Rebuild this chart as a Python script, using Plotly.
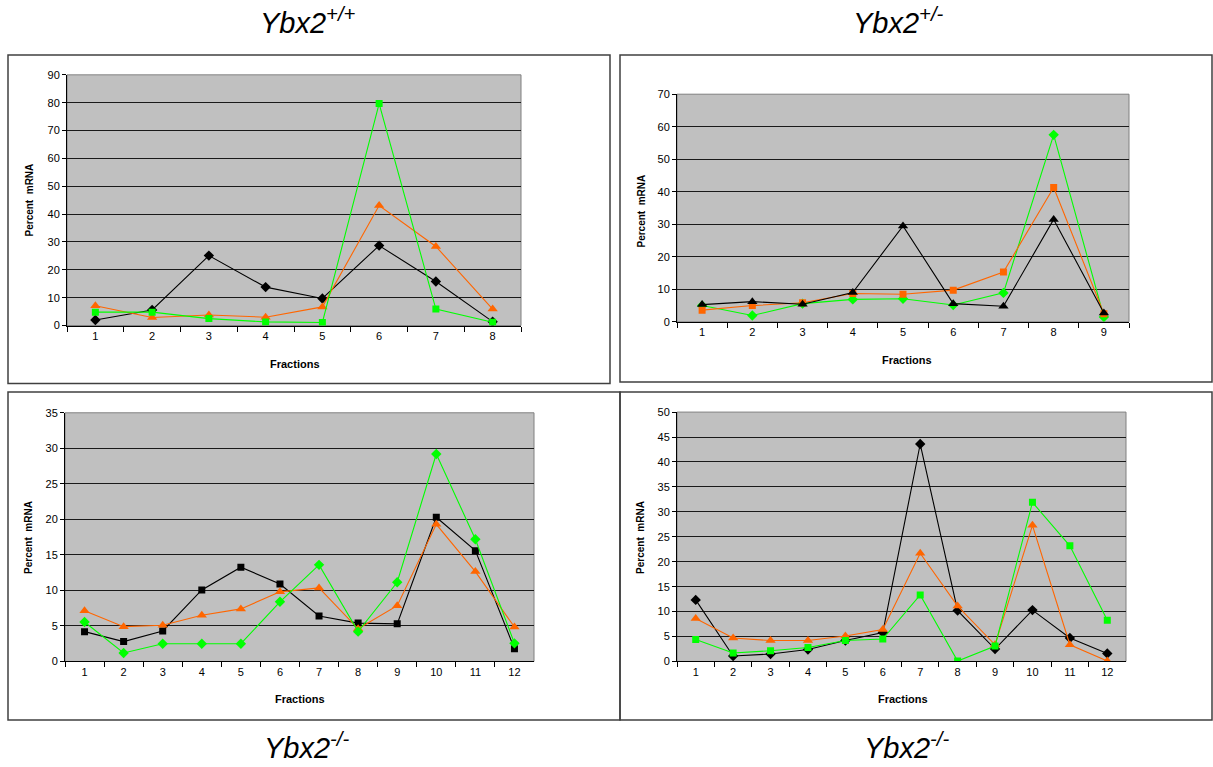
import plotly.graph_objects as go

W, H = 1213, 767

# ---------------- data ----------------
fr8 = [str(i) for i in range(1, 9)]
fr9 = [str(i) for i in range(1, 10)]
fr12 = [str(i) for i in range(1, 13)]

a_black = [2.0, 5.6, 25.1, 13.8, 9.7, 28.7, 15.8, 1.4]
a_orange = [7.1, 2.9, 3.8, 3.0, 6.7, 43.1, 28.4, 5.9]
a_green = [4.8, 4.8, 2.5, 1.3, 1.1, 79.7, 5.9, 1.2]

b_green = [5.0, 1.95, 5.6, 6.9, 7.1, 5.2, 8.9, 57.5, 1.5]
b_orange = [3.6, 5.0, 5.85, 8.7, 8.5, 9.75, 15.3, 41.3, 2.5]
b_black = [5.3, 6.2, 5.4, 9.0, 29.5, 5.6, 4.8, 31.5, 2.7]

c_black = [4.2, 2.8, 4.3, 10.07, 13.27, 10.9, 6.4, 5.4, 5.3, 20.3, 15.6, 1.8]
c_orange = [7.15, 4.9, 5.1, 6.5, 7.4, 9.8, 10.35, 4.6, 7.85, 19.3, 12.65, 4.85]
c_green = [5.55, 1.2, 2.5, 2.5, 2.5, 8.4, 13.6, 4.2, 11.15, 29.2, 17.2, 2.55]

d_black = [12.35, 1.1, 1.5, 2.4, 4.2, 5.8, 43.6, 10.2, 2.5, 10.3, 4.7, 1.6]
d_orange = [8.6, 4.7, 4.2, 4.2, 5.1, 6.4, 21.7, 11.1, 3.35, 27.3, 3.35, 0.1]
d_green = [4.4, 1.7, 2.15, 2.8, 4.2, 4.5, 13.35, 0.1, 3.1, 31.9, 23.2, 8.25]

titles = ["Ybx2<sup>+/+</sup>", "Ybx2<sup>+/-</sup>", "Ybx2<sup>-/-</sup>", "Ybx2<sup>-/-</sup>"]
y_max = [90, 70, 35, 50]
y_step = [10, 10, 5, 5]

BLACK = "#000000"
ORANGE = "#FF6600"
GREEN = "#00FF00"
FONT = "Liberation Sans, Arial, sans-serif"

def px(x):
    return x / W

# the photographed page shows the figure slightly compressed vertically;
# map wanted on-screen rows back to figure rows
def py(y):
    yd = (y - 7.05) / 0.9816
    return 1 - yd / H

areas = [
    (67, 75.7, 521, 325.7),
    (677, 95, 1129, 322),
    (65, 412.7, 534, 660.7),
    (677, 412, 1126, 660.7),
]

panels = [
    (fr8, [(a_black, BLACK, "diamond"), (a_orange, ORANGE, "triangle-up"), (a_green, GREEN, "square")]),
    (fr9, [(b_green, GREEN, "diamond"), (b_orange, ORANGE, "square"), (b_black, BLACK, "triangle-up")]),
    (fr12, [(c_black, BLACK, "square"), (c_orange, ORANGE, "triangle-up"), (c_green, GREEN, "diamond")]),
    (fr12, [(d_black, BLACK, "diamond"), (d_orange, ORANGE, "triangle-up"), (d_green, GREEN, "square")]),
]

fig = go.Figure()
layout_axes = {}
shapes = []
annotations = []

for i, ((cats, series), area) in enumerate(zip(panels, areas)):
    n = i + 1
    xa = "x" if n == 1 else f"x{n}"
    ya = "y" if n == 1 else f"y{n}"
    for vals, col, sym in series:
        msize = {"triangle-up": 9, "diamond": 8, "square": 7}[sym]
        fig.add_trace(go.Scatter(
            x=cats, y=vals, xaxis=xa, yaxis=ya, mode="lines+markers",
            line=dict(color=col, width=1.1),
            marker=dict(symbol=sym, size=msize, color=col, line=dict(width=0)),
            showlegend=False, hoverinfo="skip",
        ))
    l, t, r, b = area
    xkey = "xaxis" if n == 1 else f"xaxis{n}"
    ykey = "yaxis" if n == 1 else f"yaxis{n}"
    layout_axes[xkey] = dict(
        domain=[px(l), px(r)], anchor=ya, type="category",
        range=[-0.5, len(cats) - 0.5], tickson="boundaries",
        ticks="outside", ticklen=5, tickcolor="#000", tickwidth=1,
        showline=True, linecolor="#000", linewidth=1,
        showgrid=False, zeroline=False, fixedrange=True,
        tickfont=dict(family=FONT, size=11, color="#000"),
    )
    layout_axes[ykey] = dict(
        domain=[py(b), py(t)], anchor=xa,
        range=[0, y_max[i]], dtick=y_step[i], tick0=0,
        ticks="outside", ticklen=4, tickcolor="#000", tickwidth=1,
        showline=True, linecolor="#000", linewidth=1,
        showgrid=True, gridcolor="#1a1a1a", gridwidth=1.2,
        zeroline=False, fixedrange=True,
        tickfont=dict(family=FONT, size=11, color="#000"),
    )
    shapes.append(dict(type="rect", xref="paper", yref="paper",
                       x0=px(l), x1=px(r), y0=py(b), y1=py(t),
                       line=dict(color="#808080", width=1), layer="below"))

box_col = "#404040"
for (x0, y0, x1, y1) in [(8, 56, 610, 383.5), (620, 56, 1212, 382), (8, 392, 620, 719), (620, 392, 1212, 719)]:
    shapes.append(dict(type="rect", xref="paper", yref="paper",
                       x0=px(x0), x1=px(x1), y0=py(y1), y1=py(y0),
                       line=dict(color=box_col, width=1.5), layer="below"))

for txt, (cx, cy) in zip(titles, [(308, 22), (898, 22), (306, 745), (906, 745)]):
    annotations.append(dict(text=f"<i>{txt}</i>", x=px(cx), y=py(cy), xref="paper", yref="paper",
                             xanchor="center", yanchor="middle", showarrow=False,
                             font=dict(family=FONT, size=29, color="#000")))

for (cx, cy) in [(294.5, 364), (907, 360), (300, 698), (903, 698)]:
    annotations.append(dict(text="<b>Fractions</b>", x=px(cx), y=py(cy), xref="paper", yref="paper",
                            xanchor="center", yanchor="middle", showarrow=False,
                            font=dict(family=FONT, size=11, color="#000")))
for (cx, cy) in [(29, 201), (642, 212), (28.5, 537), (640.5, 537)]:
    annotations.append(dict(text="<b>Percent  mRNA</b>", x=px(cx), y=py(cy), xref="paper", yref="paper",
                            xanchor="center", yanchor="middle", showarrow=False, textangle=-90,
                            font=dict(family=FONT, size=10, color="#000")))

fig.update_layout(
    width=W, height=H, autosize=False,
    margin=dict(l=0, r=0, t=0, b=0),
    paper_bgcolor="#FFFFFF", plot_bgcolor="#C0C0C0",
    shapes=shapes, annotations=annotations,
    **layout_axes,
)

post = (
    "document.documentElement.style.overflow='hidden';"
    "document.body.style.margin='0';document.body.style.padding='0';"
)
fig.write_html("out.html", config={"displayModeBar": False}, post_script=post)
